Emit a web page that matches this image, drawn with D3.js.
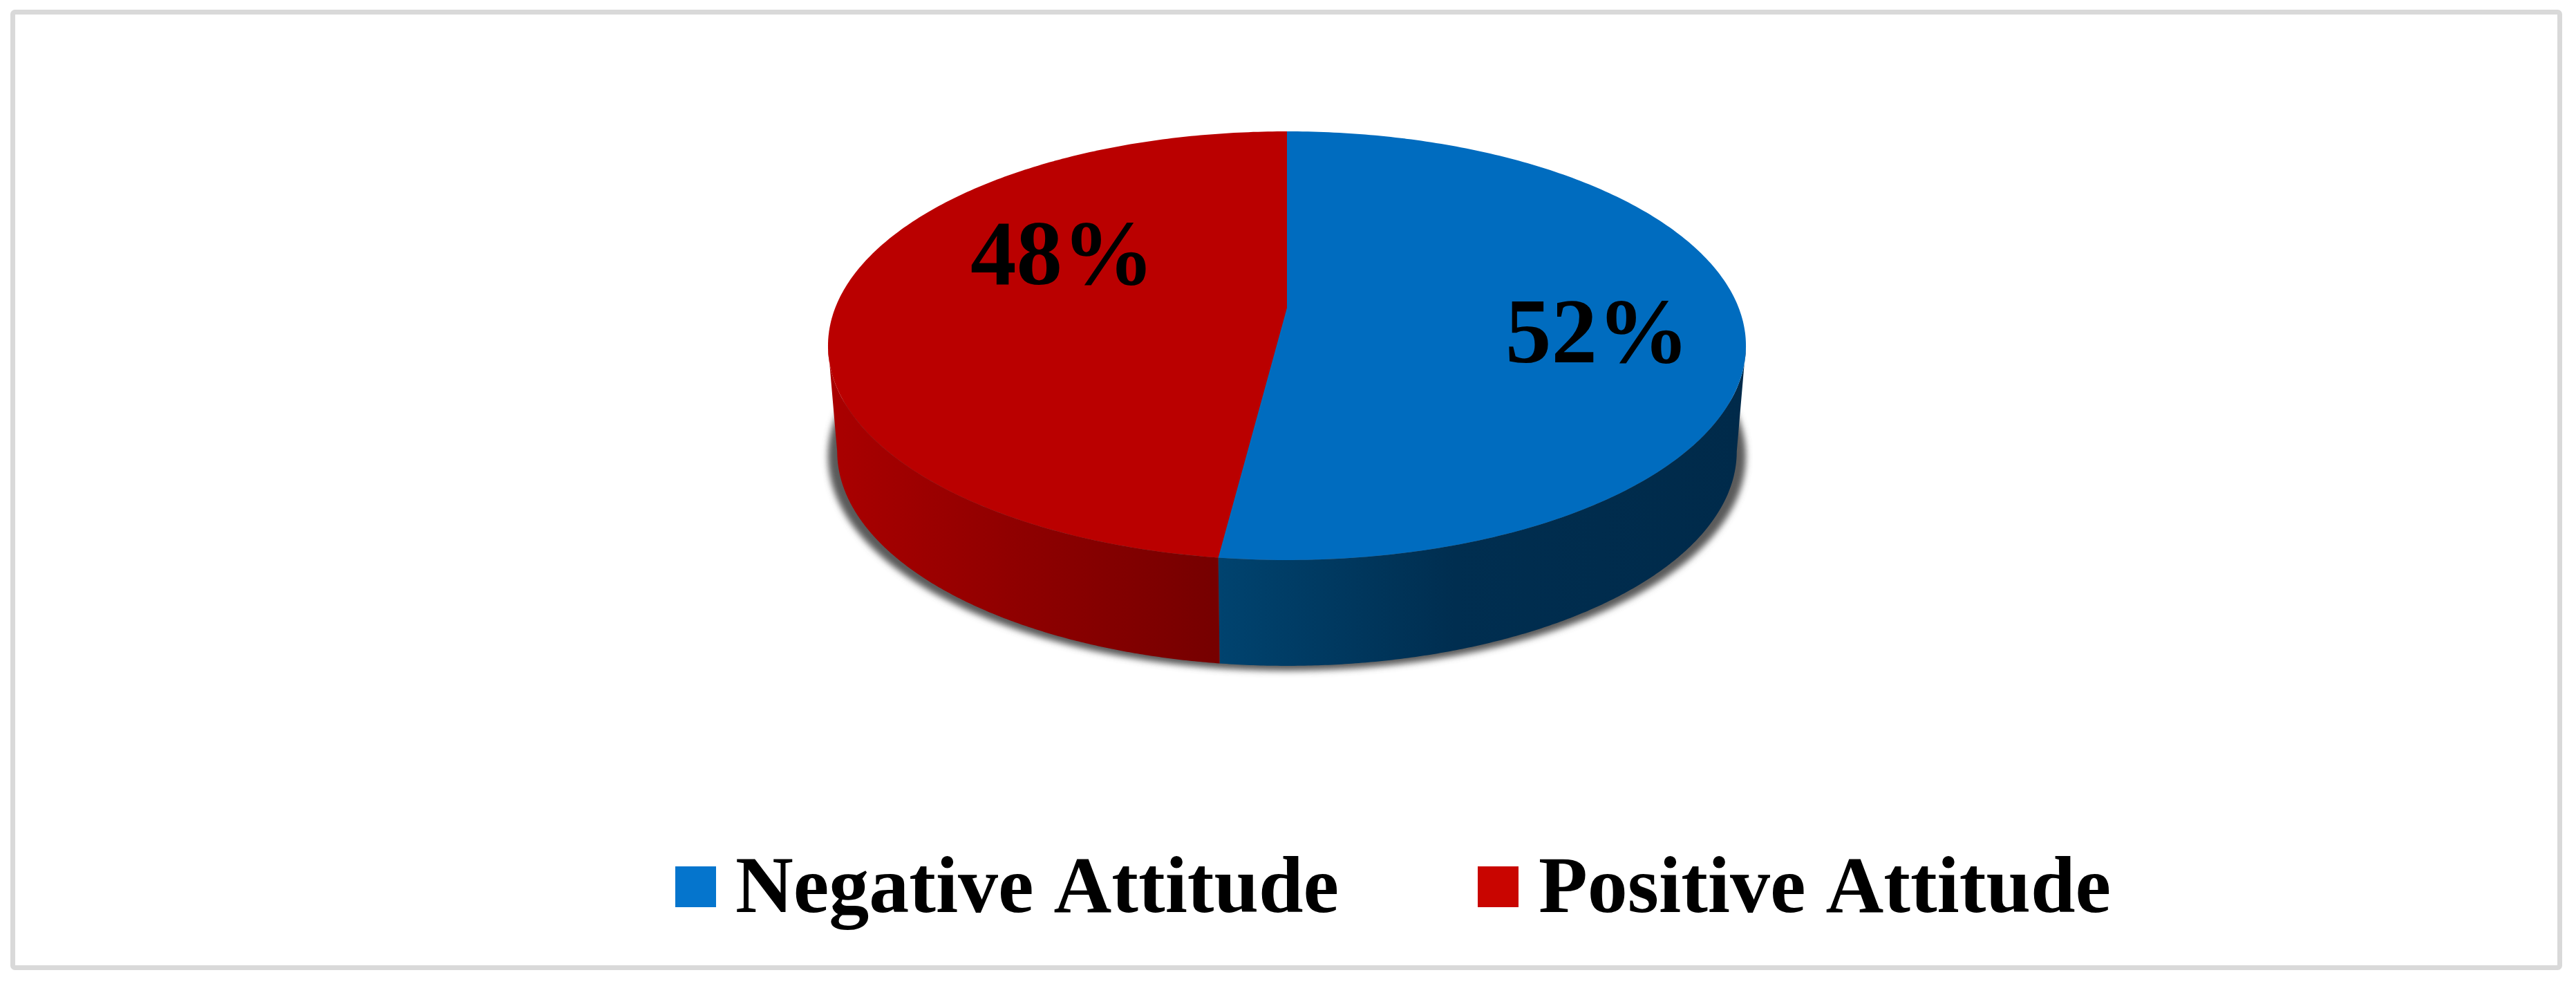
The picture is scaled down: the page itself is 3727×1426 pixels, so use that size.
<!DOCTYPE html>
<html>
<head>
<meta charset="utf-8">
<style>html,body{margin:0;padding:0;background:#fff;overflow:hidden}svg{display:block}text{font-kerning:none}</style>
<script src="https://cdn.jsdelivr.net/npm/d3@7"></script>
</head>
<body>
<script>
const categories = ["Negative Attitude", "Positive Attitude"];
const values = [52, 48];
const valueLabels = ["52%", "48%"];
const faceColors = ["#006cbf", "#ba0000"];
const legendColors = ["#0575cd", "#c90500"];
const wallStops = [
  [["0", "#00436f"], ["0.45", "#002e50"], ["1", "#002a4a"]],
  [["0", "#aa0000"], ["0.5", "#8e0000"], ["1", "#760000"]]
];

const W = 3727, H = 1426;
const FONT = "'Liberation Serif','Times New Roman',serif";
const apex = {x: 1862, y: 445}, P = {k: 0.1774, ax: 653.5, ay: 300.2}, depth = 153, bottomScale = 0.98;
const labelPos = [{x: 2311, y: 524}, {x: 1537, y: 411}];
const legendPos = [{sx: 977, tx: 1064}, {sx: 2138, tx: 2226}];

const svg = d3.select("body").append("svg").attr("width", W).attr("height", H);
svg.append("rect").attr("width", W).attr("height", H).attr("fill", "#fff");
svg.append("rect").attr("x", 18.5).attr("y", 17.5).attr("width", 3685).attr("height", 1382)
  .attr("rx", 3).attr("fill", "#fff").attr("stroke", "#d9d9d9").attr("stroke-width", 7);

const defs = svg.append("defs");
const f = defs.append("filter").attr("id", "shadow").attr("filterUnits", "userSpaceOnUse")
  .attr("x", 1100).attr("y", 100).attr("width", 1530).attr("height", 1000);
f.append("feGaussianBlur").attr("stdDeviation", 5);

const color = d3.scaleOrdinal().domain(categories).range(faceColors);
const legendColor = d3.scaleOrdinal().domain(categories).range(legendColors);

// perspective projection of the unit circle on to the pie's top face
function project(a) {
  const u = Math.sin(a), v = Math.cos(a), d = 1 + P.k * v;
  return [apex.x + P.ax * u / d, apex.y - P.ay * v / d];
}
function projectBottom(a) {
  const p = project(a);
  return [apex.x + (p[0] - apex.x) * bottomScale, p[1] + depth];
}
const pie = d3.pie().sort(null).startAngle(0).endAngle(2 * Math.PI);
const arcs = pie(values);
const line = d3.line();
const angles = s => d3.range(0, 241).map(i => s.startAngle + (s.endAngle - s.startAngle) * i / 240);

// the rim turns at these angles, so only the part between them is visible
const frontStart = Math.acos(-P.k), frontEnd = 2 * Math.PI - frontStart;
const frontPart = s => ({
  startAngle: Math.max(s.startAngle, frontStart),
  endAngle: Math.min(s.endAngle, frontEnd)
});

const [x0, x1] = [1198, 2526];
wallStops.forEach((stops, i) => {
  const seam = project(arcs[0].endAngle)[0];
  const g = defs.append("linearGradient").attr("id", "wall" + i).attr("gradientUnits", "userSpaceOnUse")
    .attr("x1", i ? x0 : seam).attr("x2", i ? seam : x1).attr("y1", 0).attr("y2", 0);
  stops.forEach(s => g.append("stop").attr("offset", s[0]).attr("stop-color", s[1]));
});

// soft shadow under the pie's lower rim
const whole = {startAngle: 0, endAngle: 2 * Math.PI};
svg.append("path")
  .attr("d", line(angles(whole).map(a => {
    const p = projectBottom(a);
    return [apex.x + (p[0] - apex.x) / bottomScale, p[1] + 7];
  })) + "Z")
  .attr("fill", "#5a5a5a").attr("filter", "url(#shadow)");

const pieG = svg.append("g");
pieG.selectAll("path.wall").data(arcs).join("path").attr("class", "wall")
  .attr("d", d => {
    const as = angles(frontPart(d));
    return line(as.map(project).concat(as.slice().reverse().map(projectBottom))) + "Z";
  })
  .attr("fill", (d, i) => `url(#wall${i})`);
pieG.selectAll("path.face").data(arcs).join("path").attr("class", "face")
  .attr("d", d => line([[apex.x, apex.y]].concat(angles(d).map(project))) + "Z")
  .attr("fill", (d, i) => color(categories[i]));

svg.selectAll("text.value").data(valueLabels).join("text").attr("class", "value")
  .attr("x", (d, i) => labelPos[i].x).attr("y", (d, i) => labelPos[i].y)
  .attr("text-anchor", "middle").attr("font-family", FONT).attr("font-weight", "bold")
  .attr("font-size", 133).attr("fill", "#000").text(d => d);

const leg = svg.selectAll("g.legend").data(categories).join("g").attr("class", "legend");
leg.append("rect").attr("x", (d, i) => legendPos[i].sx).attr("y", 1253)
  .attr("width", 59).attr("height", 59).attr("fill", d => legendColor(d));
leg.append("text").attr("x", (d, i) => legendPos[i].tx).attr("y", 1319)
  .attr("font-family", FONT).attr("font-weight", "bold").attr("font-size", 116)
  .attr("fill", "#000").text(d => d);
</script>
</body>
</html>
